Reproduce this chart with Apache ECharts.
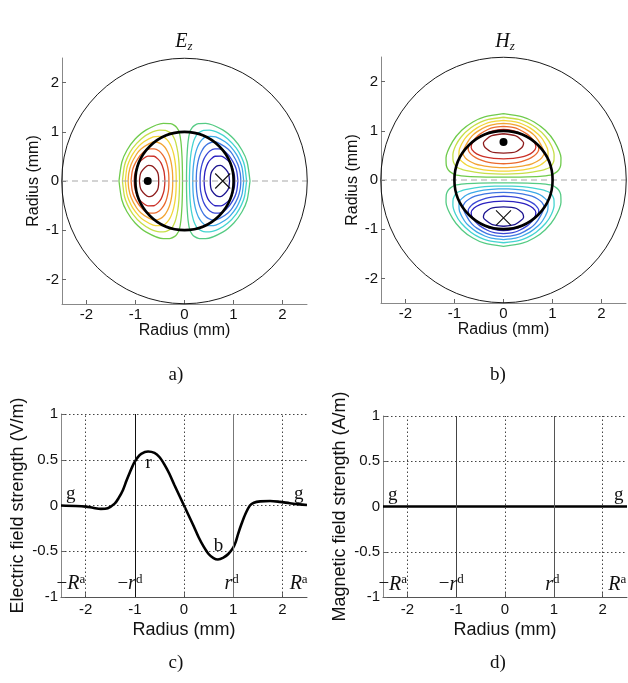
<!DOCTYPE html>
<html>
<head>
<meta charset="utf-8">
<script src="https://cdn.jsdelivr.net/npm/echarts@6/dist/echarts.min.js"></script>
<style>
  html, body { margin: 0; padding: 0; background: #fff; }
  #chart { width: 628px; height: 683px; }
</style>
</head>
<body>
<div id="chart"></div>
<script>
// tick values
const radiusTicks = [-2, -1, 0, 1, 2];
const dottedX = [-2, 0, 2];

// geometry (mm): rod radius r^d and outer radius R^a
const rodRadius = 1;
const outerRadius = 2.5;

// contour lines, one quarter each, low level -> high level
// Ez: upper-left quarter, from outer crossing of y=0 round to inner crossing
const ezQuarters = [
  [[-1.337,0],[-1.278,0.386],[-1.174,0.625],[-1.007,0.853],[-0.78,1.04],[-0.433,1.173],[-0.284,1.166],[-0.207,1.131],[-0.16,1.088],[-0.108,0.994],[-0.073,0.797],[-0.051,0.497],[-0.042,0.196],[-0.041,0]],
  [[-1.267,0],[-1.226,0.31],[-1.165,0.48],[-1.058,0.666],[-0.879,0.861],[-0.695,0.978],[-0.506,1.033],[-0.39,1.028],[-0.321,1.0],[-0.265,0.964],[-0.213,0.874],[-0.178,0.78],[-0.136,0.584],[-0.114,0.383],[-0.104,0.171],[-0.101,0]],
  [[-1.208,0],[-1.179,0.249],[-1.138,0.381],[-1.06,0.54],[-0.932,0.708],[-0.828,0.798],[-0.639,0.896],[-0.525,0.909],[-0.434,0.901],[-0.348,0.83],[-0.291,0.745],[-0.252,0.653],[-0.223,0.557],[-0.202,0.457],[-0.187,0.354],[-0.176,0.243],[-0.17,0.105],[-0.169,0]],
  [[-1.15,0],[-1.137,0.158],[-1.088,0.34],[-0.979,0.544],[-0.887,0.65],[-0.729,0.756],[-0.6025,0.798],[-0.484,0.759],[-0.404,0.69],[-0.35,0.606],[-0.31,0.514],[-0.281,0.414],[-0.26,0.304],[-0.245,0.173],[-0.24,0]],
  [[-1.09,0],[-1.068,0.19],[-1.027,0.318],[-0.933,0.482],[-0.846,0.578],[-0.771,0.637],[-0.69,0.653],[-0.62,0.653],[-0.517,0.611],[-0.449,0.537],[-0.397,0.45],[-0.36,0.347],[-0.332,0.223],[-0.322,0.137],[-0.318,0]],
  [[-1.027,0],[-1.018,0.12],[-0.977,0.274],[-0.928,0.373],[-0.83,0.462],[-0.745,0.505],[-0.622,0.503],[-0.54,0.445],[-0.477,0.364],[-0.433,0.25],[-0.415,0.174],[-0.4,0]],
  [[-0.92,0],[-0.905,0.12],[-0.881,0.184],[-0.805,0.273],[-0.735,0.316],[-0.683,0.31],[-0.638,0.288],[-0.564,0.205],[-0.535,0.128],[-0.526,0]]
];
// Hz: upper-right quarter, from top crossing of x=0 round to inner crossing
const hzQuarters = [
  [[0,1.35],[0.386,1.285],[0.625,1.18],[0.853,1.01],[1.04,0.78],[1.173,0.45],[1.166,0.29],[1.131,0.21],[1.088,0.165],[0.994,0.11],[0.797,0.08],[0.497,0.065],[0.196,0.06],[0,0.06]],
  [[0,1.275],[0.31,1.23],[0.48,1.17],[0.666,1.06],[0.861,0.88],[0.978,0.695],[1.033,0.506],[1.028,0.39],[1.0,0.321],[0.964,0.265],[0.874,0.225],[0.78,0.195],[0.584,0.16],[0.383,0.135],[0.171,0.123],[0,0.12]],
  [[0,1.21],[0.249,1.18],[0.381,1.138],[0.54,1.06],[0.708,0.932],[0.798,0.828],[0.896,0.639],[0.909,0.525],[0.901,0.434],[0.83,0.36],[0.745,0.3],[0.653,0.262],[0.557,0.235],[0.457,0.215],[0.354,0.2],[0.243,0.19],[0.105,0.182],[0,0.18]],
  [[0,1.15],[0.158,1.137],[0.34,1.088],[0.544,0.979],[0.65,0.887],[0.756,0.729],[0.83,0.555],[0.78,0.45],[0.69,0.38],[0.58,0.33],[0.45,0.295],[0.3,0.27],[0.15,0.255],[0,0.25]],
  [[0,1.09],[0.19,1.068],[0.318,1.027],[0.482,0.933],[0.578,0.846],[0.637,0.771],[0.7,0.71],[0.72,0.62],[0.66,0.52],[0.56,0.45],[0.44,0.4],[0.3,0.36],[0.15,0.34],[0,0.33]],
  [[0,1.027],[0.12,1.018],[0.28,0.98],[0.42,0.91],[0.56,0.83],[0.64,0.75],[0.66,0.66],[0.6,0.57],[0.48,0.5],[0.33,0.46],[0.2,0.44],[0,0.43]],
  [[0,0.94],[0.24,0.9],[0.355,0.825],[0.41,0.755],[0.4,0.7],[0.37,0.655],[0.265,0.58],[0.165,0.555],[0,0.546]]
];

// field maxima (dot) and minima (cross)
const ezDot = [[-0.75, 0]];
const ezCross = [[0.78, 0]];
const hzDot = [[0, 0.77]];
const hzCross = [[0, -0.77]];

// field strength along the x axis
const radiusE = [-2.5,-2.2,-2.0,-1.85,-1.69,-1.55,-1.41,-1.33,-1.24,-1.17,-1.11,-1.02,-0.95,-0.87,-0.73,-0.6,-0.5,-0.4,-0.3,-0.2,-0.1,0,
                 0.1,0.2,0.3,0.4,0.5,0.6,0.69,0.8,0.9,1.0,1.05,1.1,1.17,1.25,1.34,1.42,1.55,1.75,1.95,2.15,2.35,2.5];
const electric = [0,-0.005,-0.012,-0.025,-0.037,-0.03,0.02,0.08,0.17,0.27,0.35,0.46,0.52,0.565,0.59,0.575,0.53,0.45,0.35,0.23,0.115,0,
                  -0.115,-0.23,-0.35,-0.45,-0.53,-0.575,-0.59,-0.57,-0.53,-0.46,-0.4,-0.31,-0.2,-0.09,0,0.03,0.045,0.05,0.04,0.025,0.012,0.005];
const radiusH = [-2.5,-2,-1,0,1,2,2.5];
const magnetic = [0,0,0,0,0,0,0];

// annotations [x, y, text]
const eNotes = [[-2.3,0.13,'{s|g}'],[2.33,0.13,'{s|g}'],[-0.72,0.46,'{s|r}'],[0.7,-0.44,'{s|b}'],
                [-2.3,-0.86,'{m|−}{i|R}{sup|a}'],[-1.1,-0.86,'{m|−}{i|r}{sup|d}'],[0.97,-0.86,'{i|r}{sup|d}'],[2.33,-0.86,'{i|R}{sup|a}']];
const hNotes = [[-2.3,0.13,'{s|g}'],[2.33,0.13,'{s|g}'],
                [-2.3,-0.86,'{m|−}{i|R}{sup|a}'],[-1.1,-0.86,'{m|−}{i|r}{sup|d}'],[0.97,-0.86,'{i|r}{sup|d}'],[2.3,-0.86,'{i|R}{sup|a}']];

const SANS = "'Liberation Sans', Arial, sans-serif";
const SERIF = "'Liberation Serif', 'Times New Roman', serif";
const INK = '#111';
const posColors = ['#6fcb4c','#c6df48','#f2d63a','#f2a433','#ea6a2e','#cb3028','#8e1d1d'];
const negColors = ['#55cb84','#44d4d0','#3ea9e8','#3f76e2','#3846d6','#2a20c0','#1c1490'];

const plain = { textBorderWidth: 0, textShadowBlur: 0 };
const rich = {
  s: Object.assign({ fontFamily: SERIF, fontSize: 19, color: INK }, plain),
  m: Object.assign({ fontFamily: SERIF, fontSize: 19, color: INK, lineHeight: 22 }, plain),
  i: Object.assign({ fontFamily: SERIF, fontSize: 20, fontStyle: 'italic', color: INK, lineHeight: 22 }, plain),
  sup: Object.assign({ fontFamily: SERIF, fontSize: 13, color: INK, lineHeight: 13, verticalAlign: 'top' }, plain),
  sub: Object.assign({ fontFamily: SERIF, fontSize: 13, fontStyle: 'italic', color: INK, lineHeight: 13, verticalAlign: 'bottom' }, plain)
};

const chart = echarts.init(document.getElementById('chart'));

const grids = [
  { left: 62, top: 58, width: 245, height: 246 },
  { left: 381, top: 57, width: 245, height: 246 },
  { left: 61, top: 414, width: 246, height: 183 },
  { left: 383, top: 416, width: 244, height: 181 }
];

function xAxisFor(i, bottomRow) {
  return {
    type: 'value', gridIndex: i, min: -2.5, max: 2.5,
    name: 'Radius (mm)', nameLocation: 'middle', nameGap: bottomRow ? 24 : 17,
    nameTextStyle: { fontFamily: SANS, fontSize: bottomRow ? 18 : 16, color: INK },
    axisLine: { onZero: false, lineStyle: { color: bottomRow ? '#555' : '#888', width: 1 } },
    axisTick: { inside: true, length: 4, customValues: radiusTicks, lineStyle: { color: '#666' } },
    axisLabel: { customValues: radiusTicks, fontFamily: SANS, fontSize: 15, color: INK, margin: bottomRow ? 5 : 3 },
    splitLine: { show: false }
  };
}
function yAxisFor(i, name, bottomRow) {
  const ax = {
    type: 'value', gridIndex: i,
    name: name, nameLocation: 'middle', nameGap: bottomRow ? 34 : 20,
    nameTextStyle: { fontFamily: SANS, fontSize: bottomRow ? 18 : 16, color: INK },
    axisLine: { onZero: false, lineStyle: { color: '#888', width: 1 } },
    axisTick: { inside: true, length: 4, lineStyle: { color: '#666' } },
    axisLabel: { fontFamily: SANS, fontSize: 15, color: INK, margin: 3 }
  };
  if (bottomRow) {
    ax.min = -1; ax.max = 1; ax.interval = 0.5;
    ax.splitLine = { show: true, lineStyle: { type: [1.5, 2.5], color: '#444', width: 1 } };
  } else {
    ax.min = -2.5; ax.max = 2.5;
    ax.axisTick.customValues = radiusTicks;
    ax.axisLabel.customValues = radiusTicks;
    ax.splitLine = { show: false };
  }
  return ax;
}

// build a closed contour loop from a quarter by mirroring across the symmetry axis
function closeLoop(q, fx, fy) {
  return q.concat(q.slice().reverse().slice(1).map(p => [p[0] * fx, p[1] * fy]));
}

const series = [];
function lineOn(i, data, color, width, extra) {
  series.push(Object.assign({
    type: 'line', xAxisIndex: i, yAxisIndex: i, data: data, showSymbol: false, silent: true,
    smooth: 0.25, lineStyle: { color: color, width: width }, z: 2
  }, extra || {}));
}

ezQuarters.forEach((q, k) => {
  const loop = closeLoop(q, 1, -1);
  lineOn(0, loop, posColors[k], 1.3);
  lineOn(0, loop.map(p => [-p[0], p[1]]), negColors[k], 1.3);
});
hzQuarters.forEach((q, k) => {
  const loop = closeLoop(q, -1, 1);
  lineOn(1, loop, posColors[k], 1.3);
  lineOn(1, loop.map(p => [p[0], -p[1]]), negColors[k], 1.3);
});

function circleSeries(i, r, width) {
  series.push({
    type: 'custom', xAxisIndex: i, yAxisIndex: i, silent: true, z: 4,
    data: [[0, 0, r]],
    renderItem: (params, api) => {
      const c = api.coord([api.value(0), api.value(1)]);
      const s = api.size([api.value(2), api.value(2)]);
      return { type: 'circle', shape: { cx: c[0], cy: c[1], r: (s[0] + s[1]) / 2 },
               style: { fill: 'none', stroke: '#000', lineWidth: width } };
    }
  });
}
[0, 1].forEach(i => {
  circleSeries(i, outerRadius, 0.9);
  circleSeries(i, rodRadius, 2.6);
  lineOn(i, [[-outerRadius, 0], [outerRadius, 0]], '#a8a8a8', 1.2,
         { smooth: false, z: 3, lineStyle: { color: '#a8a8a8', width: 1.2, type: [6, 4] } });
});

function markers(i, dot, cross) {
  series.push({ type: 'scatter', xAxisIndex: i, yAxisIndex: i, data: dot, symbol: 'circle', symbolSize: 8,
                itemStyle: { color: '#000', opacity: 1 }, silent: true, z: 5 });
  series.push({ type: 'scatter', xAxisIndex: i, yAxisIndex: i, data: cross, symbol: 'path://M0 0L10 10M10 0L0 10',
                symbolSize: 15, itemStyle: { color: 'none', borderColor: '#111', borderWidth: 1.1, opacity: 1 }, silent: true, z: 5 });
}
markers(0, ezDot, ezCross);
markers(1, hzDot, hzCross);

// profiles
function profile(i, xs, ys, rodColors) {
  series.push({
    type: 'line', xAxisIndex: i, yAxisIndex: i, data: xs.map((x, k) => [x, ys[k]]),
    showSymbol: false, smooth: 0.3, silent: true, z: 4,
    lineStyle: { color: '#000', width: 2.6 },
    markLine: {
      silent: true, symbol: 'none', label: { show: false }, animation: false,
      lineStyle: { type: [1.5, 2.5], color: '#444', width: 1 },
      data: dottedX.map(v => ({ xAxis: v })).concat([
        { xAxis: -rodRadius, lineStyle: { type: 'solid', color: rodColors[0], width: 1 } },
        { xAxis: rodRadius, lineStyle: { type: 'solid', color: rodColors[1], width: 1 } }
      ])
    }
  });
}
profile(2, radiusE, electric, ['#111', '#777']);
profile(3, radiusH, magnetic, ['#444', '#555']);

function notes(i, list) {
  series.push({
    type: 'scatter', xAxisIndex: i, yAxisIndex: i, symbolSize: 0, silent: true, z: 6,
    itemStyle: { opacity: 1 },
    data: list.map(n => ({ value: [n[0], n[1]], name: n[2] })),
    label: Object.assign({ show: true, position: 'inside', formatter: '{b}', color: INK, opacity: 1, rich: rich }, plain)
  });
}
notes(2, eNotes);
notes(3, hNotes);

function caption(x, y, text, size) {
  return { type: 'text', x: x, y: y, silent: true,
           style: { text: text, align: 'center', verticalAlign: 'middle', rich: rich,
                    fontFamily: SERIF, fontSize: size, fill: INK } };
}

chart.setOption({
  animation: false,
  backgroundColor: '#fff',
  grid: grids,
  xAxis: [xAxisFor(0, false), xAxisFor(1, false), xAxisFor(2, true), xAxisFor(3, true)],
  yAxis: [yAxisFor(0, 'Radius (mm)', false), yAxisFor(1, 'Radius (mm)', false),
          yAxisFor(2, 'Electric field strength (V/m)', true), yAxisFor(3, 'Magnetic field strength (A/m)', true)],
  series: series,
  graphic: [
    caption(184, 42, '{i|E}{sub|z}', 20),
    caption(505, 42, '{i|H}{sub|z}', 20),
    caption(176, 375, 'a)', 19),
    caption(498, 375, 'b)', 19),
    caption(176, 663, 'c)', 19),
    caption(498, 663, 'd)', 19)
  ]
});
</script>
</body>
</html>
